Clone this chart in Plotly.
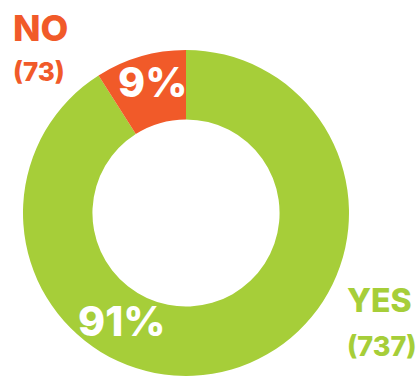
import math
import plotly.graph_objects as go

labels = ["YES", "NO"]
counts = [737, 73]
colors = ["#A6CE39", "#F15A29"]
label_angles = [211, None]  # degrees clockwise from top for percentage text (None = slice middle)

W, H = 419, 376
cx_px, cy_px, R_px, hole = 186, 213, 163, 0.574

total = sum(counts)
pcts = [round(c / total * 100) for c in counts]

fig = go.Figure(go.Pie(
    labels=labels, values=counts, sort=False, direction="clockwise",
    rotation=0, hole=hole, marker=dict(colors=colors, line=dict(width=0)),
    textinfo="none", hoverinfo="label+value+percent", showlegend=False,
    domain=dict(x=[(cx_px - R_px) / W, (cx_px + R_px) / W],
                y=[(H - cy_px - R_px) / H, (H - cy_px + R_px) / H]),
))

FONT = "Inter"
ann = []
start = 0.0
r_mid = R_px * (1 + hole) / 2 + 3
for lab, c, p, ang in zip(labels, counts, pcts, label_angles):
    span = c / total * 360
    a = ang if ang is not None else start + span / 2
    start += span
    x = cx_px + r_mid * math.sin(math.radians(a))
    y = cy_px - r_mid * math.cos(math.radians(a))
    ann.append(dict(x=x / W, y=1 - y / H, xref="paper", yref="paper",
                    xanchor="center", yanchor="middle",
                    text=f"{p}%", showarrow=False, yshift=5, xshift=3,
                    font=dict(family=FONT, size=41, color="white", weight=800)))

# outside category labels
ann += [
    dict(x=11 / W, y=1 - 25 / H, text="NO", font=dict(family=FONT, size=36, color=colors[1], weight=800)),
    dict(x=11 / W, y=1 - 68 / H, text="(" + str(counts[1]) + ")", font=dict(family=FONT, size=26, color=colors[1], weight=800)),
    dict(x=345 / W, y=1 - 297 / H, text="YES", font=dict(family=FONT, size=32, color=colors[0], weight=800)),
    dict(x=345 / W, y=1 - 343 / H, text="(" + str(counts[0]) + ")", font=dict(family=FONT, size=27, color=colors[0], weight=800)),
]
for a in ann[2:]:
    a.update(xref="paper", yref="paper", xanchor="left", yanchor="middle", showarrow=False, yshift=-3)

fig.update_layout(width=W, height=H, margin=dict(l=0, r=0, t=0, b=0),
                  paper_bgcolor="white", plot_bgcolor="white", annotations=ann)
fig.write_html("out.html")
